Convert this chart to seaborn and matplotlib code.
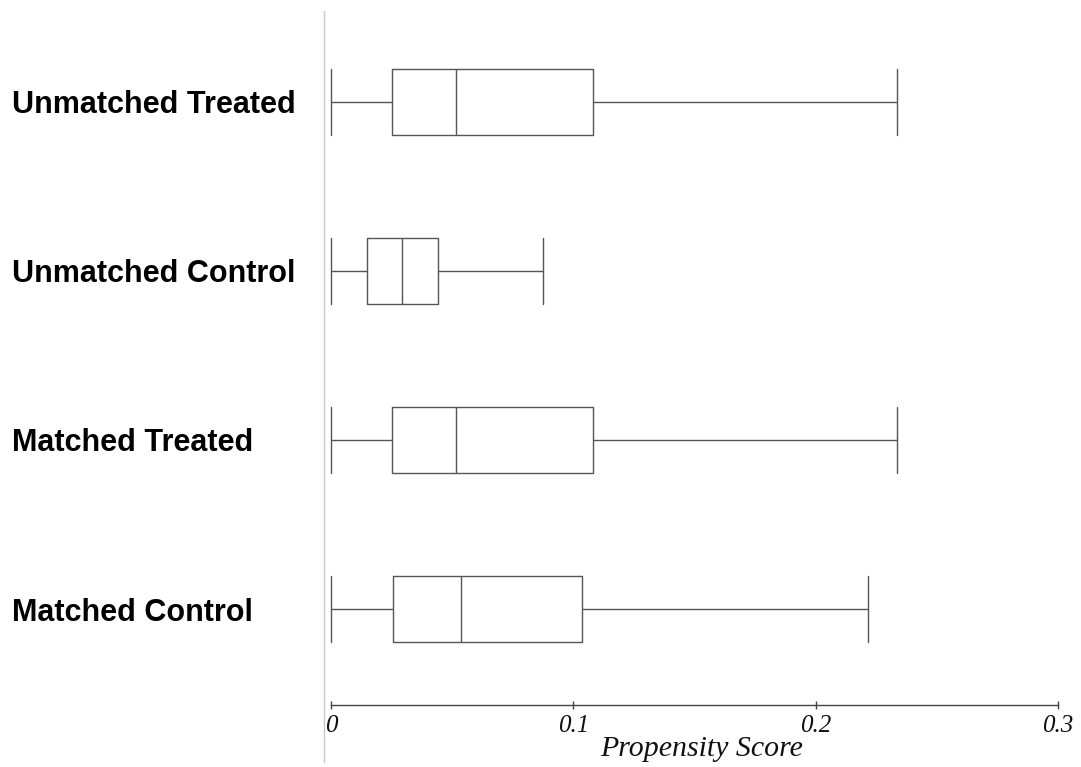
import matplotlib
matplotlib.use("Agg")
import matplotlib.pyplot as plt
import seaborn as sns
import pandas as pd

categories = ["Unmatched Treated", "Unmatched Control", "Matched Treated", "Matched Control"]
# five-number summaries: min, Q1, median, Q3, max
mins = [0.0, 0.0, 0.0, 0.0]
q1s = [0.0252, 0.0148, 0.0252, 0.0254]
medians = [0.0515, 0.0293, 0.0515, 0.0536]
q3s = [0.1080, 0.0441, 0.1080, 0.1035]
maxs = [0.2334, 0.0874, 0.2334, 0.2214]
xticks = [0, 0.1, 0.2, 0.3]
xticklabels = ["0", "0.1", "0.2", "0.3"]

rows = []
for c, a, b, m, d, e in zip(categories, mins, q1s, medians, q3s, maxs):
    for v in (a, b, m, d, e):
        rows.append({"group": c, "score": v})
df = pd.DataFrame(rows)

sns.set_style("white")
fig = plt.figure(figsize=(10.81, 7.67), dpi=100)
W, H = 1081, 767
ax = fig.add_axes([324 / W, 1 - 762 / H, (1075 - 324) / W, (762 - 11) / H])

sns.boxplot(data=df, x="score", y="group", order=categories, orient="h",
            whis=(0, 100), width=0.39, fill=False, color="#555555",
            linewidth=1.0, capwidths=0.39, showfliers=False, ax=ax)

pxu = (1058 - 331) / 0.3
ax.set_xlim(-7 / pxu, (1075 - 331) / pxu)
ax.set_ylim(3.905, -0.538)

for s in ["top", "right"]:
    ax.spines[s].set_visible(False)
ax.spines["left"].set_color("#c8c8c8")
ax.spines["left"].set_linewidth(1.0)
ax.spines["bottom"].set_position(("axes", (762 - 704.5) / (762 - 11)))
ax.spines["bottom"].set_bounds(0, 0.3)
ax.spines["bottom"].set_color("#444444")
ax.spines["bottom"].set_linewidth(1.0)

ax.set_xticks(xticks)
ax.set_xticklabels(xticklabels, fontfamily="Liberation Serif", fontstyle="italic",
                   fontsize=18, color="#111111")
ax.tick_params(axis="x", bottom=True, direction="inout", length=6, width=1,
               color="#444444", pad=4.5)
ax.set_xlabel("Propensity Score", fontfamily="Liberation Serif", fontstyle="italic",
              fontsize=21.5, color="#111111")
ax.xaxis.set_label_coords((702 - 324) / (1075 - 324), (762 - 736) / (762 - 11))
ax.xaxis.label.set_va("top")

ax.set_ylabel("")
ax.tick_params(axis="y", left=False, length=0, pad=(324 - 12) * 72 / 100)
for lbl in ax.get_yticklabels():
    lbl.set_ha("left")
    lbl.set_fontfamily("Liberation Sans")
    lbl.set_fontweight("bold")
    lbl.set_fontsize(22)
    lbl.set_color("black")

fig.savefig("out.png", dpi=100, facecolor="white")
